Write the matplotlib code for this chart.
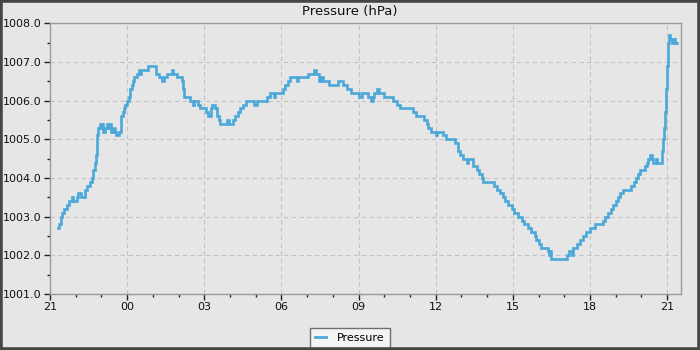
import matplotlib
matplotlib.use("Agg")
import matplotlib.pyplot as plt
import matplotlib.dates as mdates
from matplotlib.patches import Rectangle
from matplotlib.ticker import MultipleLocator, FormatStrFormatter
import numpy as np
import pandas as pd

# Readings: hours elapsed since 21:00 and barometric pressure (hPa)
hours = [
    0.30, 0.36, 0.42, 0.45, 0.55, 0.65, 0.75, 0.85, 0.90, 1.05, 1.10, 1.20, 1.26,
    1.35, 1.45, 1.55, 1.62, 1.68, 1.74, 1.78, 1.81, 1.84, 1.87, 1.90, 1.95, 2.00,
    2.04, 2.08, 2.12, 2.20, 2.26, 2.32, 2.38, 2.45, 2.52, 2.58, 2.70, 2.75, 2.78,
    2.83, 2.88, 2.93, 3.00, 3.06, 3.10, 3.17, 3.22, 3.28, 3.38, 3.45, 3.50, 3.55,
    3.70, 3.80, 4.10, 4.13, 4.25, 4.35, 4.42, 4.55, 4.75, 4.80, 4.85, 4.95, 5.05,
    5.12, 5.16, 5.22, 5.45, 5.58, 5.62, 5.75, 5.85, 6.05, 6.15, 6.25, 6.30, 6.42,
    6.50, 6.58, 6.62, 6.90, 6.95, 7.10, 7.20, 7.30, 7.38, 7.50, 7.62, 7.95, 8.05,
    8.45, 8.55, 8.70, 8.75, 9.00, 9.05, 9.15, 9.25, 9.35, 9.60, 9.65, 10.00, 10.05,
    10.25, 10.35, 10.45, 10.55, 10.62, 10.70, 10.85, 11.20, 11.40, 11.55, 11.70,
    11.90, 12.00, 12.15, 12.35, 12.50, 12.55, 12.62, 12.70, 12.80, 13.00, 13.35,
    13.50, 13.62, 14.10, 14.22, 14.55, 14.65, 14.72, 14.82, 15.00, 15.05, 15.30,
    15.40, 15.75, 15.85, 15.95, 16.05, 16.20, 16.25, 16.45, 16.60, 16.70, 16.80,
    16.85, 17.10, 17.25, 17.40, 17.50, 17.60, 17.70, 17.80, 17.95, 18.05, 18.20,
    18.35, 18.45, 18.60, 18.70, 18.85, 18.92, 19.00, 19.10, 19.35, 19.40, 19.45,
    19.50, 20.10, 20.20, 20.30, 20.35, 20.50, 20.62, 20.72, 20.85, 21.00, 21.20,
    21.50, 21.60, 21.70, 21.80, 21.88, 22.00, 22.10, 22.18, 22.30, 22.60, 22.72,
    22.80, 22.87, 22.95, 23.15, 23.20, 23.25, 23.32, 23.40, 23.45, 23.55, 23.60,
    23.80, 23.85, 23.88, 23.91, 23.94, 23.96, 23.98, 24.00, 24.02, 24.04, 24.06,
    24.10, 24.20, 24.25, 24.30, 24.35, 24.40,
]
pressure = [
    1002.7, 1002.8, 1003.0, 1003.1, 1003.2, 1003.3, 1003.4, 1003.5, 1003.4, 1003.5, 1003.6, 1003.5, 1003.5,
    1003.7, 1003.8, 1003.9, 1004.0, 1004.2, 1004.4, 1004.6, 1004.8, 1005.1, 1005.3, 1005.3, 1005.4, 1005.3,
    1005.4, 1005.2, 1005.3, 1005.4, 1005.3, 1005.4, 1005.2, 1005.3, 1005.2, 1005.1, 1005.2, 1005.4, 1005.6,
    1005.7, 1005.8, 1005.9, 1006.0, 1006.1, 1006.3, 1006.4, 1006.5, 1006.6, 1006.7, 1006.8, 1006.7, 1006.8,
    1006.8, 1006.9, 1006.9, 1006.7, 1006.6, 1006.5, 1006.6, 1006.7, 1006.8, 1006.7, 1006.7, 1006.6, 1006.6,
    1006.5, 1006.3, 1006.1, 1006.0, 1005.9, 1006.0, 1005.9, 1005.8, 1005.7, 1005.6, 1005.8, 1005.9, 1005.8,
    1005.6, 1005.5, 1005.4, 1005.5, 1005.4, 1005.5, 1005.6, 1005.7, 1005.8, 1005.9, 1006.0, 1005.9, 1006.0,
    1006.1, 1006.2, 1006.1, 1006.2, 1006.2, 1006.3, 1006.4, 1006.5, 1006.6, 1006.5, 1006.6, 1006.6, 1006.7,
    1006.8, 1006.7, 1006.5, 1006.6, 1006.5, 1006.5, 1006.4, 1006.5, 1006.4, 1006.3, 1006.2,
    1006.2, 1006.1, 1006.2, 1006.1, 1006.0, 1006.1, 1006.2, 1006.3, 1006.2, 1006.1, 1006.0,
    1005.9, 1005.8, 1005.7, 1005.6, 1005.5, 1005.4, 1005.3, 1005.2, 1005.1, 1005.2, 1005.1,
    1005.0, 1004.9, 1004.7, 1004.6, 1004.5, 1004.4, 1004.5, 1004.3, 1004.2, 1004.1, 1004.0,
    1003.9, 1003.9, 1003.8, 1003.7, 1003.6, 1003.5, 1003.4, 1003.3, 1003.2, 1003.1, 1003.0,
    1002.9, 1002.8, 1002.7, 1002.6, 1002.5, 1002.4, 1002.3, 1002.2, 1002.1, 1002.0, 1002.1,
    1001.9, 1002.0, 1002.1, 1002.0, 1002.2, 1002.3, 1002.4, 1002.5, 1002.6, 1002.7, 1002.8,
    1002.9, 1003.0, 1003.1, 1003.2, 1003.3, 1003.4, 1003.5, 1003.6, 1003.7, 1003.8, 1003.9,
    1004.0, 1004.1, 1004.2, 1004.3, 1004.4, 1004.5, 1004.6, 1004.5, 1004.4, 1004.5, 1004.4,
    1004.7, 1005.0, 1005.3, 1005.7, 1006.0, 1006.3, 1006.6, 1006.9, 1007.2, 1007.5, 1007.7,
    1007.6, 1007.5, 1007.6, 1007.5, 1007.5, 1007.5,
]

start = pd.Timestamp("2024-03-20 21:00")
times = start + pd.to_timedelta(np.array(hours), unit="h")

BG = "#e6e6e6"
LINE = "#4ba8d9"

fig = plt.figure(figsize=(7, 3.5), dpi=100, facecolor=BG)
ax = fig.add_axes([50 / 700, 1 - 294 / 350, 630.7 / 700, 270.7 / 350])
ax.set_facecolor(BG)

ax.plot(times, pressure, drawstyle="steps-post", color=LINE, lw=1.9,
        label="Pressure", solid_joinstyle="miter")

ax.set_xlim(start, start + pd.Timedelta(hours=24.53))
ax.set_ylim(1001.0, 1008.0)

ax.xaxis.set_major_locator(mdates.HourLocator(byhour=range(0, 24, 3)))
ax.xaxis.set_minor_locator(mdates.HourLocator())
ax.xaxis.set_major_formatter(mdates.DateFormatter("%H"))
ax.yaxis.set_major_locator(MultipleLocator(1.0))
ax.yaxis.set_minor_locator(MultipleLocator(0.5))
ax.yaxis.set_major_formatter(FormatStrFormatter("%.1f"))

ax.tick_params(which="major", length=4, width=1, color="#222222",
               labelsize=8, labelcolor="#111111", pad=2)
ax.tick_params(which="minor", length=2.5, width=1, color="#222222")

for s in ax.spines.values():
    s.set_color("#9a9a9a")
    s.set_linewidth(1.0)

ax.grid(True, which="major", color="#c2c2c2", lw=0.8, linestyle=(0, (4, 3)))
ax.set_axisbelow(True)

fig.text(0.5, 1 - 11.5 / 350, "Pressure (hPa)", ha="center", va="center",
         fontsize=9.5, color="#111111")

leg = ax.legend(loc="center", bbox_to_anchor=(0.5, 1 - 338 / 350),
                bbox_transform=fig.transFigure, fontsize=8, frameon=True,
                fancybox=False, handlelength=1.0, handletextpad=1.0,
                borderpad=0.45, borderaxespad=0)
frame = leg.get_frame()
frame.set_facecolor("#f4f4f4")
frame.set_edgecolor("#707070")
frame.set_linewidth(1.0)
frame.set_alpha(1)
for h in leg.get_lines():
    h.set_linewidth(2)

fig.patches.append(Rectangle((0, 0), 1, 1, transform=fig.transFigure,
                             fill=False, edgecolor="#454545", lw=4,
                             zorder=10))

fig.savefig("out.png", dpi=100, facecolor=BG)
